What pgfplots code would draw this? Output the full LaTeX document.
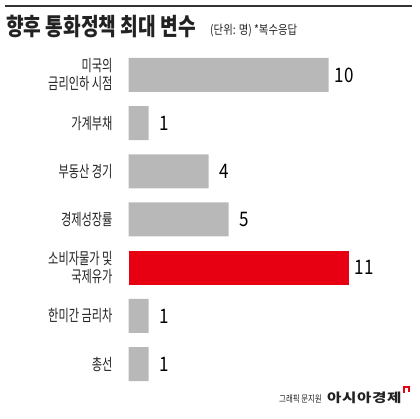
\documentclass[border=0pt]{standalone}
\usepackage{fontspec}
\usepackage{pgfplots}
\pgfplotsset{compat=1.18}
\setmainfont{Noto Sans CJK KR}
\newfontfamily\krlab[FakeStretch=0.7]{Noto Sans CJK KR}
\newfontfamily\krtit[FakeStretch=0.8]{Noto Sans CJK KR}
\newfontfamily\krsub[FakeStretch=0.83]{Noto Sans CJK KR}
\newfontfamily\krnum[FakeStretch=0.85]{Noto Sans CJK KR}
\newfontfamily\krfoot[FakeStretch=0.78]{Noto Sans CJK KR}
\newfontfamily\krlogo[FakeStretch=1.25,LetterSpace=5]{Noto Sans CJK KR}
\definecolor{bargray}{RGB}{184,184,184}
\definecolor{barred}{RGB}{230,0,18}
\definecolor{txt}{RGB}{34,34,34}
\definecolor{rule}{RGB}{51,51,51}
\begin{document}
\begin{tikzpicture}[x=1pt,y=1pt]
\useasboundingbox (0,0) rectangle (420,419);
% top rule and title
\draw[rule, line width=2.2pt] (5,413) -- (412,413);
\node[anchor=base west, inner sep=0pt, text=txt]
  at (6,383) {\krtit\bfseries\fontsize{24}{27}\selectfont 향후 통화정책 최대 변수};
\node[anchor=base west, inner sep=0pt, text=txt]
  at (210,384.5) {\krsub\fontsize{12.5}{14}\selectfont (단위: 명) *복수응답};

\begin{axis}[
    at={(128.7pt,30.8pt)}, anchor=south west,
    scale only axis,
    width=280pt, height=337.4pt,
    xmin=0, xmax=14,
    ymin=-0.5, ymax=6.5,
    y dir=reverse,
    xbar, bar shift=0pt, bar width=34pt,
    axis line style={draw=none},
    tick style={draw=none},
    xtick=\empty,
    ytick={0,1,2,3,4,5,6},
    yticklabels={{미국의\\금리인하 시점},가계부채,부동산 경기,경제성장률,{소비자물가 및\\국제유가},한미간 금리차,총선},
    yticklabel style={align=right, inner sep=0pt, xshift=-11.7pt,
      font=\krlab\fontsize{16}{18}\selectfont, text=txt},
    clip=false,
    nodes near coords,
    point meta=explicit symbolic,
    every node near coord/.append style={anchor=center, xshift=15.5pt, inner sep=0pt,
      font=\krnum\fontsize{20}{22}\selectfont, text=black},
]
\addplot[fill=bargray, draw=none] coordinates {
  (10,0) [10]
  (1,1) [1]
  (4,2) [4]
  (5,3) [5]
  (1,5) [1]
  (1,6) [1]
};
\addplot[fill=barred, draw=none] coordinates {
  (11,4) [11]
};
\end{axis}

% credit line
\node[anchor=base west, inner sep=0pt, text=txt]
  at (279,16.3) {\krfoot\fontsize{9.5}{11}\selectfont 그래픽 문지원};
\node[anchor=base west, inner sep=0pt, text=txt]
  at (327,16.3) {\krlogo\bfseries\fontsize{12.5}{14}\selectfont 아시아경제};
\draw[barred, line width=1.2pt] (404,26) -- (404,32) -- (409,32) -- (409,27);
\end{tikzpicture}
\end{document}
